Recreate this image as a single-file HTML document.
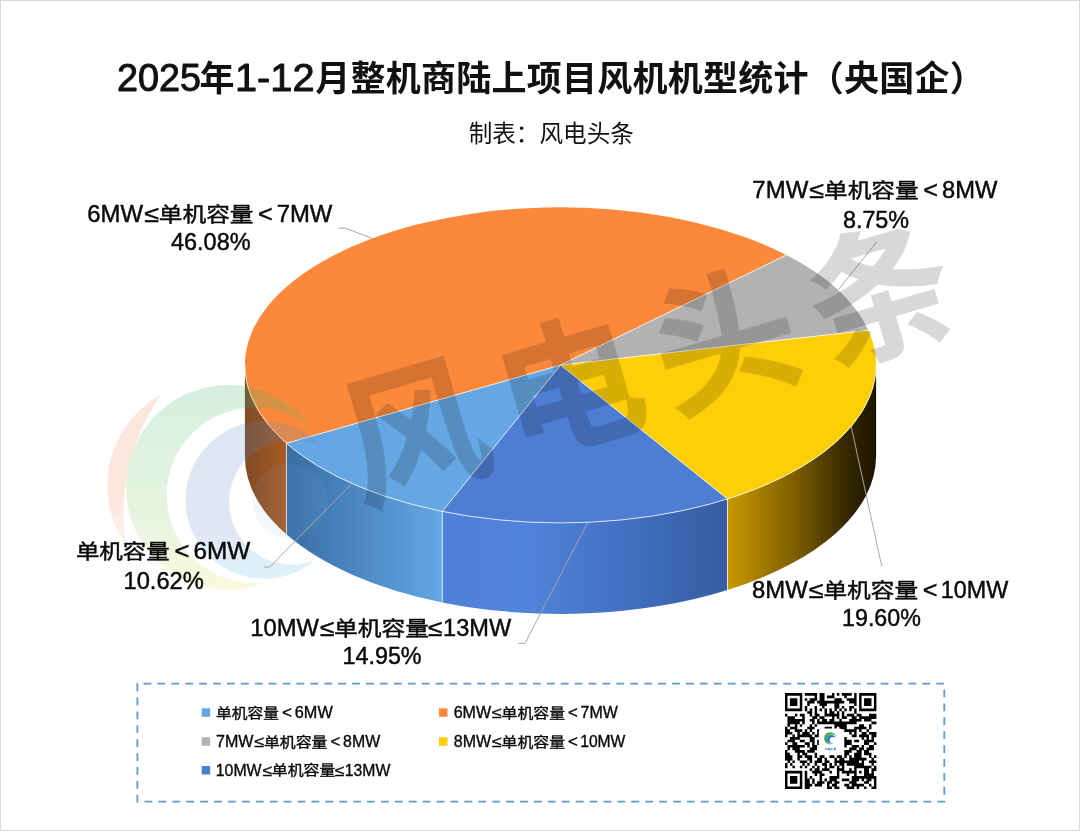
<!DOCTYPE html>
<html lang="zh-CN">
<head>
<meta charset="utf-8">
<title>2025年1-12月整机商陆上项目风机机型统计（央国企）</title>
<style>
html,body{margin:0;padding:0;background:#fff;}
body{width:1080px;height:831px;overflow:hidden;position:relative;}
svg{position:absolute;left:0;top:0;display:block;}
text{font-family:"Liberation Sans","Noto Sans CJK SC",sans-serif;fill:#111;}
.title{font-size:35px;font-weight:700;}
.tl{font-weight:400;stroke:#111;stroke-width:0.95px;stroke-linejoin:round;}
.sub{font-size:23.6px;}
.lab{font-size:23.3px;fill:#0a0a0a;stroke:#0a0a0a;stroke-width:0.45px;}
.leg{font-size:15.6px;fill:#0a0a0a;stroke:#0a0a0a;stroke-width:0.35px;}
.wm{font-family:"Noto Sans CJK SC","Liberation Sans",sans-serif;font-weight:700;font-size:144px;letter-spacing:18px;fill:#000;stroke:#000;stroke-width:0.8px;stroke-linejoin:round;}
</style>
</head>
<body>
<svg width="1080" height="831" viewBox="0 0 1080 831">
<defs>
<linearGradient id="gYe" gradientUnits="userSpaceOnUse" x1="727.51" y1="0" x2="876.1" y2="0">
 <stop offset="0" stop-color="#C99800"/><stop offset="0.45" stop-color="#7E5F00"/><stop offset="0.8" stop-color="#352800"/><stop offset="1" stop-color="#1C1500"/>
</linearGradient>
<linearGradient id="gBl" gradientUnits="userSpaceOnUse" x1="442.27" y1="0" x2="727.51" y2="0">
 <stop offset="0" stop-color="#4E80D7"/><stop offset="0.3" stop-color="#5083DA"/><stop offset="0.6" stop-color="#4472C5"/><stop offset="1" stop-color="#355CA0"/>
</linearGradient>
<linearGradient id="gLb" gradientUnits="userSpaceOnUse" x1="286.41" y1="0" x2="442.27" y2="0">
 <stop offset="0" stop-color="#396DA3"/><stop offset="0.5" stop-color="#4E8AC6"/><stop offset="1" stop-color="#63A6E4"/>
</linearGradient>
<linearGradient id="gOr" gradientUnits="userSpaceOnUse" x1="244.9" y1="0" x2="286.41" y2="0">
 <stop offset="0" stop-color="#7F4A26"/><stop offset="1" stop-color="#A95B21"/>
</linearGradient>

<mask id="mO" maskUnits="userSpaceOnUse" x="0" y="0" width="1080" height="831"><rect width="1080" height="831" fill="#fff"/><circle cx="325.5" cy="512.3" r="202" fill="#000"/></mask>
<mask id="mG" maskUnits="userSpaceOnUse" x="0" y="0" width="1080" height="831"><rect width="1080" height="831" fill="#fff"/><circle cx="254.5" cy="495.3" r="87.8" fill="#000"/></mask>
<mask id="mB" maskUnits="userSpaceOnUse" x="0" y="0" width="1080" height="831"><rect width="1080" height="831" fill="#fff"/><circle cx="291.7" cy="502.2" r="62.5" fill="#000"/></mask>
<linearGradient id="lgG" x1="0" y1="0" x2="0" y2="1"><stop offset="0" stop-color="#35B36A"/><stop offset="0.65" stop-color="#86CB6B"/><stop offset="1" stop-color="#EDE25A"/></linearGradient>
<linearGradient id="lgO" x1="0" y1="0" x2="0" y2="1"><stop offset="0" stop-color="#F08A50"/><stop offset="0.55" stop-color="#F08A50"/><stop offset="1" stop-color="#F08A50" stop-opacity="0.15"/></linearGradient>
<linearGradient id="lgB" x1="0" y1="0" x2="0" y2="1"><stop offset="0" stop-color="#5A86C8"/><stop offset="0.7" stop-color="#5E93CF"/><stop offset="1" stop-color="#5CC0E6"/></linearGradient>
</defs>
<rect x="0.5" y="0.5" width="1079" height="830" fill="#fff" stroke="#D9D9D9" stroke-width="1"/>

<!-- title -->
<text class="title" y="90.9"><tspan class="tl" x="116.9" font-size="38.3" textLength="84" lengthAdjust="spacingAndGlyphs">2025</tspan><tspan x="199.6" dy="-0.1">年</tspan><tspan class="tl" x="235" dy="0.1" font-size="38.3" textLength="79.5" lengthAdjust="spacingAndGlyphs">1-12</tspan><tspan x="315.3" dy="-0.1" letter-spacing="0.25">月整机商陆上项目风机机型统计（央国企）</tspan></text>
<text class="sub" x="468.7" y="142.3">制表：风电头条</text>

<!-- pie -->
<g>
<path d="M876.1 365.1A315.6 157.8 0 0 1 727.51 498.99L727.51 589.99A315.6 157.8 0 0 0 876.1 456.1Z" fill="url(#gYe)"/>
<path d="M727.51 498.99A315.6 157.8 0 0 1 442.27 511.41L442.27 602.41A315.6 157.8 0 0 0 727.51 589.99Z" fill="url(#gBl)"/>
<path d="M442.27 511.41A315.6 157.8 0 0 1 286.41 443.33L286.41 534.33A315.6 157.8 0 0 0 442.27 602.41Z" fill="url(#gLb)"/>
<path d="M286.41 443.33A315.6 157.8 0 0 1 244.9 365.1L244.9 456.1A315.6 157.8 0 0 0 286.41 534.33Z" fill="url(#gOr)"/>
<path d="M560.5 365.1L442.27 511.41A315.6 157.8 0 0 1 286.41 443.33Z" fill="#65A7E3"/>
<path d="M560.5 365.1L286.41 443.33A315.6 157.8 0 0 1 786.45 254.93Z" fill="#FC893B"/>
<path d="M560.5 365.1L786.45 254.93A315.6 157.8 0 0 1 868.28 330.19Z" fill="#B2B2B2"/>
<path d="M560.5 365.1L868.28 330.19A315.6 157.8 0 0 1 727.51 498.99Z" fill="#FECE08"/>
<path d="M560.5 365.1L727.51 498.99A315.6 157.8 0 0 1 442.27 511.41Z" fill="#4D7ED3"/>
<g fill="none" stroke="#fff" stroke-opacity="0.75" stroke-width="1">
<path d="M560.5 365.1L442.27 511.41"/>
<path d="M560.5 365.1L286.41 443.33"/>
<path d="M560.5 365.1L786.45 254.93"/>
<path d="M560.5 365.1L868.28 330.19"/>
<path d="M560.5 365.1L727.51 498.99"/>
<path d="M876.1 365.1A315.6 157.8 0 0 1 244.9 365.1"/>
<path d="M727.51 498.99V589.99"/>
<path d="M442.27 511.41V602.41"/>
<path d="M286.41 443.33V534.33"/>
</g>
</g>

<!-- leader lines -->
<g fill="none" stroke="#A6A6A6" stroke-width="1">
<path d="M338.5 228.2H345.5L371.7 238.2"/>
<path d="M876.5 242L839 289"/>
<path d="M851.2 426.5L881.8 566.5"/>
<path d="M518.3 643.3H525L587.4 523"/>
<path d="M264.2 567H269.7L351.7 483.6"/>
</g>

<!-- logo watermark -->
<g opacity="0.2">
<circle cx="211.9" cy="485.7" r="104.7" fill="url(#lgO)" mask="url(#mO)"/>
<circle cx="228.3" cy="487.3" r="102.3" fill="url(#lgG)" mask="url(#mG)"/>
<circle cx="264.3" cy="499.9" r="78.8" fill="url(#lgB)" mask="url(#mB)"/>
<circle cx="290" cy="501" r="37.5" fill="#7FB6E6" opacity="0.45"/>
</g>

<!-- text watermark -->
<g opacity="0.15"><text class="wm" transform="translate(360 503) rotate(-16.4)" x="0" y="0">风电头条</text></g>

<!-- data labels -->
<text class="lab" y="221.9"><tspan x="87.20" textLength="55.87" lengthAdjust="spacingAndGlyphs">6MW</tspan><tspan x="144.19" textLength="14.75" lengthAdjust="spacingAndGlyphs">≤</tspan><tspan x="158.80" dy="0.0" font-size="20.62" textLength="94.67" lengthAdjust="spacingAndGlyphs">单机容量</tspan><tspan x="251.06" dy="-0.0" textLength="28.67" lengthAdjust="spacingAndGlyphs"> &lt; </tspan><tspan x="276.65" textLength="55.62" lengthAdjust="spacingAndGlyphs">7MW</tspan></text>
<text class="lab" y="249.9"><tspan x="170.97" textLength="79.59" lengthAdjust="spacingAndGlyphs">46.08%</tspan></text>
<text class="lab" y="198.3"><tspan x="752.34" textLength="55.93" lengthAdjust="spacingAndGlyphs">7MW</tspan><tspan x="809.39" textLength="14.75" lengthAdjust="spacingAndGlyphs">≤</tspan><tspan x="824.00" dy="0.0" font-size="20.62" textLength="94.67" lengthAdjust="spacingAndGlyphs">单机容量</tspan><tspan x="916.26" dy="-0.0" textLength="28.67" lengthAdjust="spacingAndGlyphs"> &lt; </tspan><tspan x="942.09" textLength="55.38" lengthAdjust="spacingAndGlyphs">8MW</tspan></text>
<text class="lab" y="227.5"><tspan x="842.91" textLength="66.22" lengthAdjust="spacingAndGlyphs">8.75%</tspan></text>
<text class="lab" y="598.3"><tspan x="751.99" textLength="55.69" lengthAdjust="spacingAndGlyphs">8MW</tspan><tspan x="808.79" textLength="14.75" lengthAdjust="spacingAndGlyphs">≤</tspan><tspan x="823.40" dy="0.0" font-size="20.62" textLength="94.67" lengthAdjust="spacingAndGlyphs">单机容量</tspan><tspan x="915.66" dy="-0.0" textLength="28.67" lengthAdjust="spacingAndGlyphs"> &lt; </tspan><tspan x="940.75" textLength="67.45" lengthAdjust="spacingAndGlyphs">10MW</tspan></text>
<text class="lab" y="626.2"><tspan x="842.06" textLength="78.80" lengthAdjust="spacingAndGlyphs">19.60%</tspan></text>
<text class="lab" y="636"><tspan x="250.32" textLength="68.58" lengthAdjust="spacingAndGlyphs">10MW</tspan><tspan x="320.12" textLength="14.30" lengthAdjust="spacingAndGlyphs">≤</tspan><tspan x="334.10" dy="0.0" font-size="20.62" textLength="94.77" lengthAdjust="spacingAndGlyphs">单机容量</tspan><tspan x="428.12" dy="-0.0" textLength="14.30" lengthAdjust="spacingAndGlyphs">≤</tspan><tspan x="443.13" textLength="68.07" lengthAdjust="spacingAndGlyphs">13MW</tspan></text>
<text class="lab" y="664.3"><tspan x="342.55" textLength="79.00" lengthAdjust="spacingAndGlyphs">14.95%</tspan></text>
<text class="lab" y="559.4"><tspan x="75.91" dy="0.0" font-size="20.62" textLength="93.85" lengthAdjust="spacingAndGlyphs">单机容量</tspan><tspan x="167.33" dy="-0.0" textLength="29.14" lengthAdjust="spacingAndGlyphs"> &lt; </tspan><tspan x="193.59" textLength="56.69" lengthAdjust="spacingAndGlyphs">6MW</tspan></text>
<text class="lab" y="588.6"><tspan x="123.52" textLength="80.35" lengthAdjust="spacingAndGlyphs">10.62%</tspan></text>

<!-- legend -->
<path d="M137.4 683.6V801.6H944.3V683.6Z" fill="none" stroke="#5B9BD5" stroke-width="1.8" stroke-dasharray="7.8 6.108"/>
<rect x="201.7" y="708.3" width="8.5" height="8.5" fill="#65A7E3"/>
<rect x="201.7" y="737.3" width="8.5" height="8.5" fill="#B2B2B2"/>
<rect x="201.7" y="766.0" width="8.5" height="8.5" fill="#4D7ED3"/>
<rect x="439" y="708.3" width="8.5" height="8.5" fill="#FC893B"/>
<rect x="439" y="737.3" width="8.5" height="8.5" fill="#FECE08"/>
<text class="leg" y="718.3"><tspan x="216.04" dy="-0.7" font-size="13.81" textLength="62.83" lengthAdjust="spacingAndGlyphs">单机容量</tspan><tspan x="277.24" dy="0.7" textLength="19.51" lengthAdjust="spacingAndGlyphs"> &lt; </tspan><tspan x="294.82" textLength="37.95" lengthAdjust="spacingAndGlyphs">6MW</tspan></text>
<text class="leg" y="747.3"><tspan x="216.06" textLength="37.45" lengthAdjust="spacingAndGlyphs">7MW</tspan><tspan x="254.26" textLength="9.87" lengthAdjust="spacingAndGlyphs">≤</tspan><tspan x="264.03" dy="-0.7" font-size="13.81" textLength="63.38" lengthAdjust="spacingAndGlyphs">单机容量</tspan><tspan x="325.81" dy="0.7" textLength="19.19" lengthAdjust="spacingAndGlyphs"> &lt; </tspan><tspan x="343.10" textLength="37.08" lengthAdjust="spacingAndGlyphs">8MW</tspan></text>
<text class="leg" y="776.0"><tspan x="215.71" textLength="45.92" lengthAdjust="spacingAndGlyphs">10MW</tspan><tspan x="262.44" textLength="9.57" lengthAdjust="spacingAndGlyphs">≤</tspan><tspan x="271.80" dy="-0.7" font-size="13.81" textLength="63.45" lengthAdjust="spacingAndGlyphs">单机容量</tspan><tspan x="334.75" dy="0.7" textLength="9.57" lengthAdjust="spacingAndGlyphs">≤</tspan><tspan x="344.80" textLength="45.57" lengthAdjust="spacingAndGlyphs">13MW</tspan></text>
<text class="leg" y="718.3"><tspan x="453.70" textLength="37.41" lengthAdjust="spacingAndGlyphs">6MW</tspan><tspan x="491.86" textLength="9.87" lengthAdjust="spacingAndGlyphs">≤</tspan><tspan x="501.63" dy="-0.7" font-size="13.81" textLength="63.38" lengthAdjust="spacingAndGlyphs">单机容量</tspan><tspan x="563.41" dy="0.7" textLength="19.19" lengthAdjust="spacingAndGlyphs"> &lt; </tspan><tspan x="580.54" textLength="37.24" lengthAdjust="spacingAndGlyphs">7MW</tspan></text>
<text class="leg" y="747.3"><tspan x="453.82" textLength="37.28" lengthAdjust="spacingAndGlyphs">8MW</tspan><tspan x="491.86" textLength="9.87" lengthAdjust="spacingAndGlyphs">≤</tspan><tspan x="501.63" dy="-0.7" font-size="13.81" textLength="63.38" lengthAdjust="spacingAndGlyphs">单机容量</tspan><tspan x="563.41" dy="0.7" textLength="19.19" lengthAdjust="spacingAndGlyphs"> &lt; </tspan><tspan x="580.20" textLength="45.16" lengthAdjust="spacingAndGlyphs">10MW</tspan></text>

<!-- QR -->
<path d="M785 693h17.29v2.64h-17.29zM804.76 693h12.35v2.64h-12.35zM819.58 693h4.94v2.64h-4.94zM831.94 693h2.47v2.64h-2.47zM836.88 693h2.47v2.64h-2.47zM841.82 693h9.88v2.64h-9.88zM854.17 693h2.47v2.64h-2.47zM859.11 693h17.29v2.64h-17.29zM785 695.59h2.47v2.64h-2.47zM799.82 695.59h2.47v2.64h-2.47zM814.64 695.59h2.47v2.64h-2.47zM819.58 695.59h4.94v2.64h-4.94zM826.99 695.59h7.41v2.64h-7.41zM844.29 695.59h2.47v2.64h-2.47zM854.17 695.59h2.47v2.64h-2.47zM859.11 695.59h2.47v2.64h-2.47zM873.93 695.59h2.47v2.64h-2.47zM785 698.19h2.47v2.64h-2.47zM789.94 698.19h7.41v2.64h-7.41zM799.82 698.19h2.47v2.64h-2.47zM804.76 698.19h2.47v2.64h-2.47zM809.7 698.19h7.41v2.64h-7.41zM819.58 698.19h4.94v2.64h-4.94zM834.41 698.19h7.41v2.64h-7.41zM846.76 698.19h9.88v2.64h-9.88zM859.11 698.19h2.47v2.64h-2.47zM864.05 698.19h7.41v2.64h-7.41zM873.93 698.19h2.47v2.64h-2.47zM785 700.78h2.47v2.64h-2.47zM789.94 700.78h7.41v2.64h-7.41zM799.82 700.78h2.47v2.64h-2.47zM807.23 700.78h7.41v2.64h-7.41zM817.11 700.78h27.17v2.64h-27.17zM849.23 700.78h7.41v2.64h-7.41zM859.11 700.78h2.47v2.64h-2.47zM864.05 700.78h7.41v2.64h-7.41zM873.93 700.78h2.47v2.64h-2.47zM785 703.38h2.47v2.64h-2.47zM789.94 703.38h7.41v2.64h-7.41zM799.82 703.38h2.47v2.64h-2.47zM807.23 703.38h2.47v2.64h-2.47zM819.58 703.38h7.41v2.64h-7.41zM834.41 703.38h4.94v2.64h-4.94zM854.17 703.38h2.47v2.64h-2.47zM859.11 703.38h2.47v2.64h-2.47zM864.05 703.38h7.41v2.64h-7.41zM873.93 703.38h2.47v2.64h-2.47zM785 705.97h2.47v2.64h-2.47zM799.82 705.97h2.47v2.64h-2.47zM804.76 705.97h2.47v2.64h-2.47zM814.64 705.97h2.47v2.64h-2.47zM822.05 705.97h2.47v2.64h-2.47zM834.41 705.97h4.94v2.64h-4.94zM841.82 705.97h2.47v2.64h-2.47zM849.23 705.97h4.94v2.64h-4.94zM859.11 705.97h2.47v2.64h-2.47zM873.93 705.97h2.47v2.64h-2.47zM785 708.57h17.29v2.64h-17.29zM804.76 708.57h2.47v2.64h-2.47zM809.7 708.57h2.47v2.64h-2.47zM814.64 708.57h2.47v2.64h-2.47zM819.58 708.57h2.47v2.64h-2.47zM824.52 708.57h2.47v2.64h-2.47zM829.46 708.57h2.47v2.64h-2.47zM834.41 708.57h2.47v2.64h-2.47zM839.35 708.57h2.47v2.64h-2.47zM844.29 708.57h2.47v2.64h-2.47zM849.23 708.57h2.47v2.64h-2.47zM854.17 708.57h2.47v2.64h-2.47zM859.11 708.57h17.29v2.64h-17.29zM807.23 711.16h4.94v2.64h-4.94zM814.64 711.16h2.47v2.64h-2.47zM824.52 711.16h2.47v2.64h-2.47zM829.46 711.16h4.94v2.64h-4.94zM836.88 711.16h2.47v2.64h-2.47zM841.82 711.16h2.47v2.64h-2.47zM854.17 711.16h2.47v2.64h-2.47zM785 713.76h2.47v2.64h-2.47zM794.88 713.76h2.47v2.64h-2.47zM799.82 713.76h4.94v2.64h-4.94zM809.7 713.76h2.47v2.64h-2.47zM814.64 713.76h4.94v2.64h-4.94zM824.52 713.76h14.82v2.64h-14.82zM841.82 713.76h2.47v2.64h-2.47zM846.76 713.76h7.41v2.64h-7.41zM856.64 713.76h4.94v2.64h-4.94zM868.99 713.76h7.41v2.64h-7.41zM787.47 716.35h7.41v2.64h-7.41zM802.29 716.35h2.47v2.64h-2.47zM812.17 716.35h4.94v2.64h-4.94zM819.58 716.35h4.94v2.64h-4.94zM831.94 716.35h2.47v2.64h-2.47zM836.88 716.35h2.47v2.64h-2.47zM841.82 716.35h4.94v2.64h-4.94zM851.7 716.35h4.94v2.64h-4.94zM859.11 716.35h17.29v2.64h-17.29zM787.47 718.95h17.29v2.64h-17.29zM809.7 718.95h4.94v2.64h-4.94zM817.11 718.95h2.47v2.64h-2.47zM822.05 718.95h4.94v2.64h-4.94zM829.46 718.95h4.94v2.64h-4.94zM839.35 718.95h2.47v2.64h-2.47zM849.23 718.95h12.35v2.64h-12.35zM864.05 718.95h7.41v2.64h-7.41zM787.47 721.54h12.35v2.64h-12.35zM802.29 721.54h2.47v2.64h-2.47zM812.17 721.54h2.47v2.64h-2.47zM817.11 721.54h39.52v2.64h-39.52zM871.46 721.54h4.94v2.64h-4.94zM787.47 724.14h2.47v2.64h-2.47zM794.88 724.14h2.47v2.64h-2.47zM799.82 724.14h2.47v2.64h-2.47zM809.7 724.14h2.47v2.64h-2.47zM814.64 724.14h2.47v2.64h-2.47zM834.41 724.14h12.35v2.64h-12.35zM859.11 724.14h4.94v2.64h-4.94zM868.99 724.14h2.47v2.64h-2.47zM785 726.73h2.47v2.64h-2.47zM789.94 726.73h7.41v2.64h-7.41zM807.23 726.73h7.41v2.64h-7.41zM824.52 726.73h7.41v2.64h-7.41zM834.41 726.73h2.47v2.64h-2.47zM839.35 726.73h7.41v2.64h-7.41zM854.17 726.73h12.35v2.64h-12.35zM868.99 726.73h2.47v2.64h-2.47zM785 729.32h4.94v2.64h-4.94zM794.88 729.32h7.41v2.64h-7.41zM804.76 729.32h2.47v2.64h-2.47zM809.7 729.32h2.47v2.64h-2.47zM817.11 729.32h2.47v2.64h-2.47zM844.29 729.32h12.35v2.64h-12.35zM859.11 729.32h2.47v2.64h-2.47zM866.52 729.32h2.47v2.64h-2.47zM785 731.92h7.41v2.64h-7.41zM797.35 731.92h2.47v2.64h-2.47zM802.29 731.92h7.41v2.64h-7.41zM812.17 731.92h2.47v2.64h-2.47zM817.11 731.92h2.47v2.64h-2.47zM849.23 731.92h2.47v2.64h-2.47zM854.17 731.92h2.47v2.64h-2.47zM861.58 731.92h4.94v2.64h-4.94zM868.99 731.92h7.41v2.64h-7.41zM785 734.51h2.47v2.64h-2.47zM792.41 734.51h2.47v2.64h-2.47zM797.35 734.51h14.82v2.64h-14.82zM814.64 734.51h4.94v2.64h-4.94zM851.7 734.51h4.94v2.64h-4.94zM859.11 734.51h9.88v2.64h-9.88zM871.46 734.51h4.94v2.64h-4.94zM789.94 737.11h9.88v2.64h-9.88zM809.7 737.11h4.94v2.64h-4.94zM844.29 737.11h2.47v2.64h-2.47zM861.58 737.11h2.47v2.64h-2.47zM866.52 737.11h2.47v2.64h-2.47zM871.46 737.11h2.47v2.64h-2.47zM787.47 739.7h7.41v2.64h-7.41zM799.82 739.7h4.94v2.64h-4.94zM809.7 739.7h4.94v2.64h-4.94zM817.11 739.7h2.47v2.64h-2.47zM844.29 739.7h7.41v2.64h-7.41zM854.17 739.7h4.94v2.64h-4.94zM864.05 739.7h9.88v2.64h-9.88zM785 742.3h2.47v2.64h-2.47zM792.41 742.3h4.94v2.64h-4.94zM804.76 742.3h4.94v2.64h-4.94zM812.17 742.3h2.47v2.64h-2.47zM817.11 742.3h2.47v2.64h-2.47zM844.29 742.3h7.41v2.64h-7.41zM864.05 742.3h4.94v2.64h-4.94zM873.93 742.3h2.47v2.64h-2.47zM787.47 744.89h17.29v2.64h-17.29zM807.23 744.89h2.47v2.64h-2.47zM812.17 744.89h4.94v2.64h-4.94zM844.29 744.89h2.47v2.64h-2.47zM851.7 744.89h7.41v2.64h-7.41zM861.58 744.89h2.47v2.64h-2.47zM868.99 744.89h4.94v2.64h-4.94zM787.47 747.49h2.47v2.64h-2.47zM792.41 747.49h7.41v2.64h-7.41zM809.7 747.49h7.41v2.64h-7.41zM849.23 747.49h7.41v2.64h-7.41zM859.11 747.49h4.94v2.64h-4.94zM866.52 747.49h7.41v2.64h-7.41zM785 750.08h2.47v2.64h-2.47zM794.88 750.08h9.88v2.64h-9.88zM807.23 750.08h7.41v2.64h-7.41zM844.29 750.08h7.41v2.64h-7.41zM856.64 750.08h4.94v2.64h-4.94zM864.05 750.08h4.94v2.64h-4.94zM785 752.68h4.94v2.64h-4.94zM797.35 752.68h2.47v2.64h-2.47zM802.29 752.68h4.94v2.64h-4.94zM814.64 752.68h2.47v2.64h-2.47zM844.29 752.68h4.94v2.64h-4.94zM854.17 752.68h7.41v2.64h-7.41zM864.05 752.68h7.41v2.64h-7.41zM785 755.27h7.41v2.64h-7.41zM797.35 755.27h4.94v2.64h-4.94zM804.76 755.27h7.41v2.64h-7.41zM814.64 755.27h2.47v2.64h-2.47zM819.58 755.27h4.94v2.64h-4.94zM829.46 755.27h4.94v2.64h-4.94zM836.88 755.27h4.94v2.64h-4.94zM844.29 755.27h2.47v2.64h-2.47zM849.23 755.27h2.47v2.64h-2.47zM854.17 755.27h7.41v2.64h-7.41zM868.99 755.27h2.47v2.64h-2.47zM873.93 755.27h2.47v2.64h-2.47zM785 757.86h7.41v2.64h-7.41zM797.35 757.86h2.47v2.64h-2.47zM807.23 757.86h4.94v2.64h-4.94zM817.11 757.86h4.94v2.64h-4.94zM824.52 757.86h2.47v2.64h-2.47zM834.41 757.86h2.47v2.64h-2.47zM839.35 757.86h4.94v2.64h-4.94zM849.23 757.86h17.29v2.64h-17.29zM871.46 757.86h2.47v2.64h-2.47zM787.47 760.46h2.47v2.64h-2.47zM792.41 760.46h2.47v2.64h-2.47zM799.82 760.46h7.41v2.64h-7.41zM809.7 760.46h2.47v2.64h-2.47zM814.64 760.46h7.41v2.64h-7.41zM824.52 760.46h4.94v2.64h-4.94zM834.41 760.46h24.7v2.64h-24.7zM861.58 760.46h2.47v2.64h-2.47zM868.99 760.46h7.41v2.64h-7.41zM785 763.05h2.47v2.64h-2.47zM789.94 763.05h2.47v2.64h-2.47zM802.29 763.05h2.47v2.64h-2.47zM807.23 763.05h2.47v2.64h-2.47zM814.64 763.05h2.47v2.64h-2.47zM822.05 763.05h4.94v2.64h-4.94zM829.46 763.05h2.47v2.64h-2.47zM834.41 763.05h2.47v2.64h-2.47zM839.35 763.05h4.94v2.64h-4.94zM846.76 763.05h17.29v2.64h-17.29zM871.46 763.05h2.47v2.64h-2.47zM785 765.65h2.47v2.64h-2.47zM792.41 765.65h2.47v2.64h-2.47zM799.82 765.65h2.47v2.64h-2.47zM804.76 765.65h2.47v2.64h-2.47zM812.17 765.65h2.47v2.64h-2.47zM817.11 765.65h2.47v2.64h-2.47zM824.52 765.65h2.47v2.64h-2.47zM829.46 765.65h4.94v2.64h-4.94zM836.88 765.65h2.47v2.64h-2.47zM841.82 765.65h2.47v2.64h-2.47zM854.17 765.65h17.29v2.64h-17.29zM873.93 765.65h2.47v2.64h-2.47zM809.7 768.24h2.47v2.64h-2.47zM814.64 768.24h4.94v2.64h-4.94zM822.05 768.24h7.41v2.64h-7.41zM836.88 768.24h7.41v2.64h-7.41zM849.23 768.24h2.47v2.64h-2.47zM854.17 768.24h2.47v2.64h-2.47zM864.05 768.24h4.94v2.64h-4.94zM871.46 768.24h4.94v2.64h-4.94zM785 770.84h17.29v2.64h-17.29zM804.76 770.84h2.47v2.64h-2.47zM812.17 770.84h9.88v2.64h-9.88zM829.46 770.84h2.47v2.64h-2.47zM836.88 770.84h2.47v2.64h-2.47zM841.82 770.84h14.82v2.64h-14.82zM859.11 770.84h2.47v2.64h-2.47zM864.05 770.84h4.94v2.64h-4.94zM871.46 770.84h2.47v2.64h-2.47zM785 773.43h2.47v2.64h-2.47zM799.82 773.43h2.47v2.64h-2.47zM804.76 773.43h2.47v2.64h-2.47zM814.64 773.43h2.47v2.64h-2.47zM819.58 773.43h4.94v2.64h-4.94zM836.88 773.43h2.47v2.64h-2.47zM846.76 773.43h2.47v2.64h-2.47zM854.17 773.43h2.47v2.64h-2.47zM864.05 773.43h9.88v2.64h-9.88zM785 776.03h2.47v2.64h-2.47zM789.94 776.03h7.41v2.64h-7.41zM799.82 776.03h2.47v2.64h-2.47zM804.76 776.03h2.47v2.64h-2.47zM809.7 776.03h2.47v2.64h-2.47zM819.58 776.03h2.47v2.64h-2.47zM829.46 776.03h9.88v2.64h-9.88zM851.7 776.03h24.7v2.64h-24.7zM785 778.62h2.47v2.64h-2.47zM789.94 778.62h7.41v2.64h-7.41zM799.82 778.62h2.47v2.64h-2.47zM804.76 778.62h4.94v2.64h-4.94zM812.17 778.62h2.47v2.64h-2.47zM819.58 778.62h2.47v2.64h-2.47zM824.52 778.62h2.47v2.64h-2.47zM829.46 778.62h7.41v2.64h-7.41zM841.82 778.62h7.41v2.64h-7.41zM851.7 778.62h7.41v2.64h-7.41zM861.58 778.62h2.47v2.64h-2.47zM866.52 778.62h4.94v2.64h-4.94zM873.93 778.62h2.47v2.64h-2.47zM785 781.22h2.47v2.64h-2.47zM789.94 781.22h7.41v2.64h-7.41zM799.82 781.22h2.47v2.64h-2.47zM804.76 781.22h4.94v2.64h-4.94zM812.17 781.22h2.47v2.64h-2.47zM817.11 781.22h7.41v2.64h-7.41zM826.99 781.22h4.94v2.64h-4.94zM834.41 781.22h4.94v2.64h-4.94zM849.23 781.22h7.41v2.64h-7.41zM864.05 781.22h4.94v2.64h-4.94zM873.93 781.22h2.47v2.64h-2.47zM785 783.81h2.47v2.64h-2.47zM799.82 783.81h2.47v2.64h-2.47zM804.76 783.81h7.41v2.64h-7.41zM814.64 783.81h7.41v2.64h-7.41zM826.99 783.81h2.47v2.64h-2.47zM831.94 783.81h4.94v2.64h-4.94zM844.29 783.81h4.94v2.64h-4.94zM851.7 783.81h12.35v2.64h-12.35zM868.99 783.81h2.47v2.64h-2.47zM873.93 783.81h2.47v2.64h-2.47zM785 786.41h17.29v2.64h-17.29zM804.76 786.41h4.94v2.64h-4.94zM826.99 786.41h4.94v2.64h-4.94zM834.41 786.41h4.94v2.64h-4.94zM846.76 786.41h7.41v2.64h-7.41zM856.64 786.41h2.47v2.64h-2.47zM864.05 786.41h2.47v2.64h-2.47zM871.46 786.41h4.94v2.64h-4.94z" fill="#000"/>
<rect x="818.8" y="728.6" width="24" height="24" rx="3.5" fill="#fff"/>
<g>
<circle cx="830.2" cy="738.4" r="6.1" fill="#3FAE5A"/>
<circle cx="832.0" cy="739.6" r="5.0" fill="#fff"/>
<circle cx="831.4" cy="739.4" r="4.4" fill="#2F74C0"/>
<circle cx="833.0" cy="740.2" r="3.3" fill="#fff"/>
<path d="M824.6 736.2A6.6 6.6 0 0 1 828.6 732.4" fill="none" stroke="#F08A3C" stroke-width="0.9"/>
<text x="830.6" y="750.4" text-anchor="middle" style="font-size:2.8px;font-weight:700;fill:#2F74C0">风电头条</text>
</g>
</svg>
</body>
</html>
